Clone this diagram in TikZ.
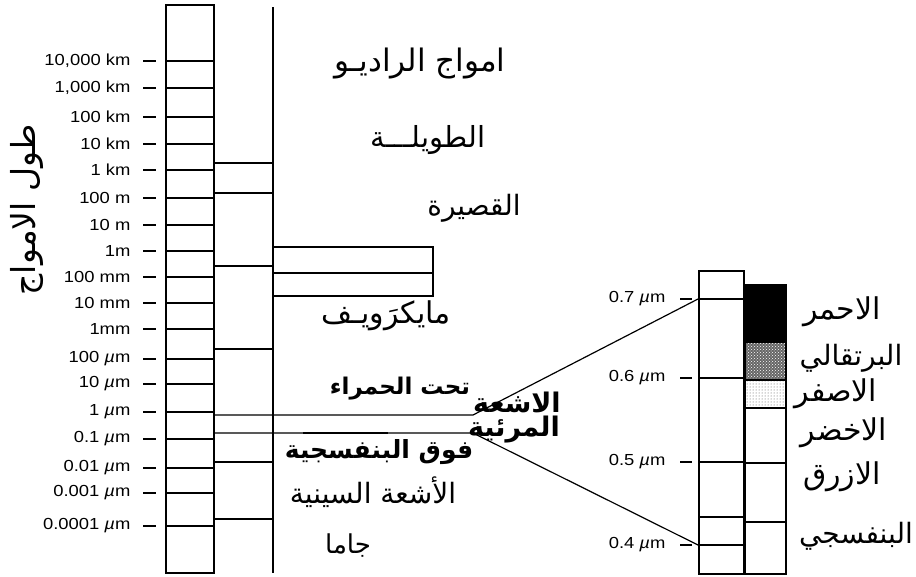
\documentclass[tikz,border=0pt]{standalone}
\usepackage{fontspec}
\usetikzlibrary{patterns}
\TeXXeTstate=1
\newfontfamily\arabicfont[Script=Arabic]{DejaVu Sans}
\newfontfamily\arabicbold[Script=Arabic]{DejaVu Sans Bold}
\newfontfamily\labfont[FakeStretch=1.15]{Liberation Sans}
\newcommand{\arx}[1]{\arabicfont\beginR #1\endR}
\newcommand{\arb}[1]{\arabicbold\beginR #1\endR}
\newcommand{\um}{\textit{µ}m}
\newcommand{\fs}[1]{\fontsize{#1}{#1}\selectfont}
\tikzset{
  lab/.style={font=\labfont\fs{16}, anchor=east, inner sep=0pt},
  tickl/.style={line width=1.2pt},
  arlab/.style={inner sep=0pt},
}
\begin{document}
\begin{tikzpicture}[x=1pt,y=-1pt,line width=1.2pt]
\useasboundingbox (0,0) rectangle (916,576);
% left wavelength column
\draw (166,5) rectangle (214,573);
\foreach \yy/\tx/\nm in {61/{10,000 km}/a,88/{1,000 km}/b,117/{100 km}/c,144/{10 km}/d,170/{1 km}/e,198/{100 m}/f,225/{10 m}/g,251/{1m}/h,277/{100 mm}/i,303/{10 mm}/j,329/{1mm}/k,359/{100 \um}/l,384/{10 \um}/m,412/{1 \um}/n,439/{0.1 \um}/o,468/{0.01 \um}/p,493/{0.001 \um}/q,526/{0.0001 \um}/r}{
  \draw (166,\yy) -- (214,\yy);
  \node[lab] (t\nm) at (131,\yy) {\tx};
  \draw[tickl] (143,\yy) -- (156,\yy);
}
% middle column
\draw (273,7) -- (273,573);
\foreach \yy in {163,193,266,349,462,519}{\draw (214,\yy) -- (273,\yy);}
% microwave box
\draw (273,247) rectangle (433,296);
\draw (273,273) -- (433,273);
% visible box
\draw (699,271) rectangle (744,574);
\foreach \yy in {299,378,462,517,545}{\draw (699,\yy) -- (744,\yy);}
\coordinate (v7) at (698,299);
\coordinate (v4) at (698,545);
\coordinate (irA) at (214,415);
\coordinate (irB) at (473,415);
\coordinate (uvA) at (214,433);
\coordinate (uvB) at (473,433);
\draw (irA) -- (irB) -- (v7);
\draw (uvA) -- (uvB) -- (v4);
\draw[line width=2.4pt] (303,433) -- (388,433);
% visible scale labels
\foreach \yy/\tx/\nm in {299/{0.7 \um}/a,378/{0.6 \um}/b,462/{0.5 \um}/c,545/{0.4 \um}/d}{
  \node[lab] (s\nm) at (666,\yy) {\tx};
  \draw[tickl] (680,\yy) -- (692,\yy);
}
% colour strip
\fill[black] (745,285) rectangle (786,342);
\fill[black!60] (745,342) rectangle (786,380);
\fill[pattern=crosshatch dots, pattern color=white] (745,342) rectangle (786,380);
\fill[pattern=dots, pattern color=black!70] (745,380) rectangle (786,408);
\draw (745,285) rectangle (786,574);
\foreach \yy in {342,380,408,463,522}{\draw (745,\yy) -- (786,\yy);}
% Arabic labels
\node[arlab,rotate=90,font=\fs{33}] (axis) at (27,210) {\arx{طول الامواج}};
\node[arlab,font=\fs{31}] (radio) at (420,64) {\arx{امواج الراديـو}};
\node[arlab,font=\fs{29}] (long) at (428,140) {\arx{الطويلـــة}};
\node[arlab,font=\fs{28}] (short) at (474,208) {\arx{القصيرة}};
\node[arlab,font=\fs{30}] (micro) at (386,316) {\arx{مايكرَويـف}};
\node[arlab,font=\fs{23}] (ir) at (400,389) {\arb{تحت الحمراء}};
\node[arlab,font=\fs{25}] (uv) at (379,452) {\arb{فوق البنفسجية}};
\node[arlab,font=\fs{28}] (xray) at (373,492) {\arx{الأشعة السينية}};
\node[arlab,font=\fs{26}] (gamma) at (348,546) {\arx{جاما}};
\node[arlab,font=\fs{27}] (vis1) at (517,402) {\arb{الاشعة}};
\node[arlab,font=\fs{27}] (vis2) at (514,430) {\arb{المرئية}};
\node[arlab,font=\fs{30}] (red) at (842,312) {\arx{الاحمر}};
\node[arlab,font=\fs{28}] (orange) at (851,358) {\arx{البرتقالي}};
\node[arlab,font=\fs{30}] (yellow) at (836,394) {\arx{الاصفر}};
\node[arlab,font=\fs{30}] (green) at (844,433) {\arx{الاخضر}};
\node[arlab,font=\fs{30}] (blue) at (842,477) {\arx{الازرق}};
\node[arlab,font=\fs{28}] (violet) at (856,536) {\arx{البنفسجي}};
\end{tikzpicture}
\end{document}
